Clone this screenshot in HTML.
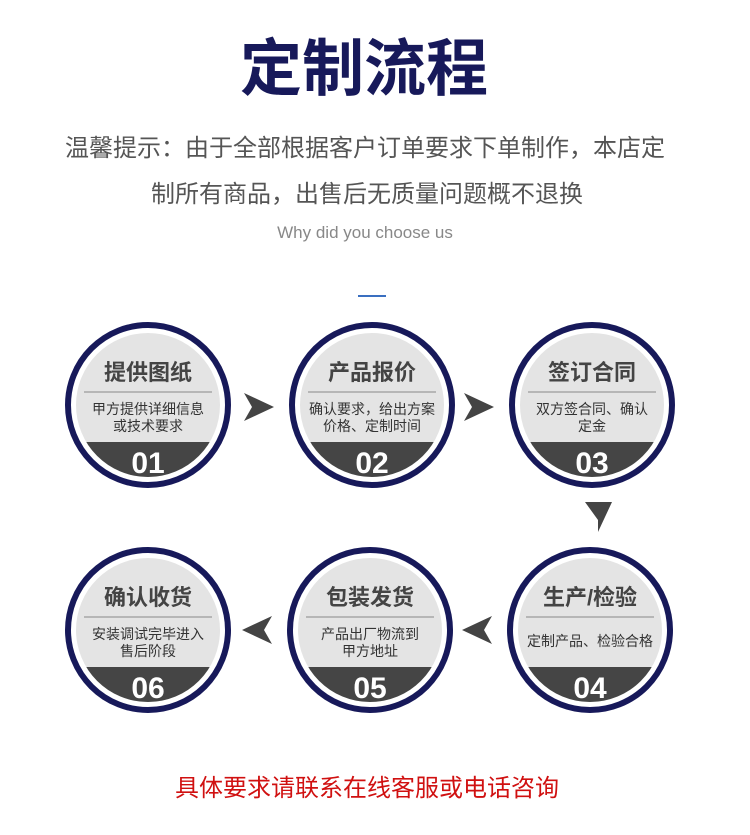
<!DOCTYPE html>
<html><head><meta charset="utf-8"><style>
body{margin:0;background:#fff;width:750px;height:835px;overflow:hidden}
svg{display:block}
text{font-family:"Liberation Sans","Noto Sans CJK SC",sans-serif}
</style></head><body>
<svg width="750" height="835" viewBox="0 0 750 835">
<defs>
<g id="c">
<circle r="80" fill="#fff" stroke="#17195a" stroke-width="6"/>
<circle r="72" fill="#e4e4e4"/>
<clipPath id="cp"><circle r="72"/></clipPath>
<rect x="-80" y="37" width="160" height="50" fill="#454545" clip-path="url(#cp)"/>
<line x1="-64" y1="-13" x2="64" y2="-13" stroke="#888" stroke-width="1"/>
</g>
</defs>
<text x="364" y="90" text-anchor="middle" font-size="62" font-weight="bold" fill="#17195a">定制流程</text>
<text x="365" y="156" text-anchor="middle" font-size="24" fill="#555">温馨提示：由于全部根据客户订单要求下单制作，本店定</text>
<text x="367" y="202" text-anchor="middle" font-size="24" fill="#555">制所有商品，出售后无质量问题概不退换</text>
<text x="365" y="238" text-anchor="middle" font-size="17" fill="#888">Why did you choose us</text>
<rect x="358" y="295" width="28" height="2" fill="#3a6fc0"/>

<g>
<use href="#c" x="148" y="405"/><use href="#c" x="372" y="405"/><use href="#c" x="592" y="405"/>
<use href="#c" x="148" y="630"/><use href="#c" x="370" y="630"/><use href="#c" x="590" y="630"/>
</g>
<g text-anchor="middle">
<g font-size="22" font-weight="bold" fill="#444">
<text x="148" y="380">提供图纸</text><text x="372" y="380">产品报价</text><text x="592" y="380">签订合同</text>
<text x="148" y="605">确认收货</text><text x="370" y="605">包装发货</text><text x="590" y="605">生产/检验</text>
</g>
<g font-size="14" fill="#333">
<text x="148" y="414">甲方提供详细信息</text><text x="148" y="431">或技术要求</text>
<text x="372" y="414">确认要求，给出方案</text><text x="372" y="431">价格、定制时间</text>
<text x="592" y="414">双方签合同、确认</text><text x="592" y="431">定金</text>
<text x="148" y="639">安装调试完毕进入</text><text x="148" y="656">售后阶段</text>
<text x="370" y="639">产品出厂物流到</text><text x="370" y="656">甲方地址</text>
<text x="590" y="646">定制产品、检验合格</text>
</g>
<g font-size="30" font-weight="bold" fill="#fff">
<text x="148" y="473">01</text><text x="372" y="473">02</text><text x="592" y="473">03</text>
<text x="148" y="698">06</text><text x="370" y="698">05</text><text x="590" y="698">04</text>
</g>
</g>
<g fill="#444">
<path d="M244 393 L274 407 L244 421 L252 407Z"/>
<path d="M464 393 L494 407 L464 421 L472 407Z"/>
<path d="M585 502 L612 502 L598 532 L598 520Z"/>
<path d="M272 616 L242 630 L272 644 L264 630Z"/>
<path d="M492 616 L462 630 L492 644 L484 630Z"/>
</g>
<text x="367" y="796" text-anchor="middle" font-size="24" fill="#d01010">具体要求请联系在线客服或电话咨询</text>
</svg>
</body></html>
